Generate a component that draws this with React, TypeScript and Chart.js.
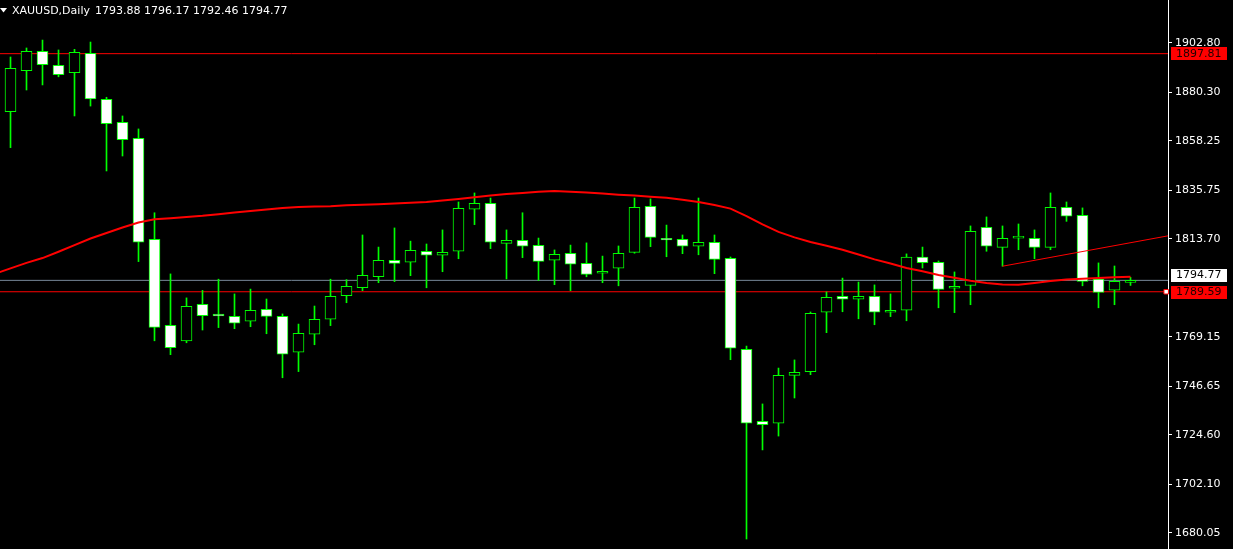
import React, { useEffect, useRef } from 'react';
import { Chart, registerables } from 'chart.js';
Chart.register(...registerables);

const symbolTitle = 'XAUUSD,Daily';
const headerQuote = '1793.88 1796.17 1792.46 1794.77';

const opens = [1871.4, 1890.1, 1898.9, 1892.5, 1889.2, 1898.0, 1877.1, 1866.6, 1859.3, 1813.4, 1774.3, 1767.3, 1783.9, 1779.4, 1778.4, 1776.2, 1781.6, 1778.4, 1762.1, 1770.3, 1777.1, 1787.8, 1791.4, 1796.4, 1803.9, 1803.0, 1808.0, 1806.2, 1808.0, 1827.1, 1829.8, 1811.6, 1813.0, 1810.7, 1803.9, 1807.1, 1802.5, 1798.0, 1800.3, 1807.5, 1828.4, 1813.9, 1813.4, 1810.3, 1812.1, 1804.8, 1763.4, 1730.7, 1729.8, 1751.6, 1753.3, 1780.3, 1787.5, 1786.2, 1787.5, 1780.3, 1781.2, 1805.3, 1803.0, 1791.2, 1792.5, 1818.9, 1809.8, 1814.0, 1813.9, 1809.8, 1828.0, 1824.3, 1795.3, 1790.3, 1793.88];
const highs = [1896.3, 1900.4, 1904.0, 1899.5, 1899.8, 1903.1, 1878.0, 1869.5, 1863.6, 1825.5, 1797.7, 1786.8, 1790.2, 1795.3, 1788.6, 1790.8, 1786.3, 1779.5, 1774.9, 1783.1, 1795.3, 1795.1, 1815.4, 1809.9, 1818.6, 1812.6, 1811.3, 1817.7, 1830.4, 1834.5, 1832.2, 1817.7, 1825.5, 1814.0, 1808.6, 1810.8, 1811.8, 1805.8, 1810.4, 1832.2, 1831.8, 1819.9, 1815.4, 1832.2, 1815.4, 1805.4, 1764.9, 1738.6, 1754.9, 1758.6, 1780.4, 1789.5, 1795.8, 1794.0, 1792.7, 1788.6, 1806.8, 1809.9, 1803.6, 1798.6, 1819.5, 1823.6, 1819.5, 1820.4, 1817.7, 1834.5, 1830.4, 1827.7, 1802.7, 1801.3, 1796.17];
const lows = [1855.1, 1881.3, 1883.6, 1887.3, 1869.5, 1874.0, 1844.5, 1851.3, 1803.3, 1767.3, 1761.0, 1766.4, 1772.2, 1773.3, 1772.8, 1773.7, 1770.5, 1750.5, 1753.3, 1765.5, 1774.2, 1784.6, 1790.1, 1793.7, 1794.2, 1796.9, 1791.4, 1798.7, 1804.6, 1820.1, 1809.2, 1795.4, 1805.1, 1794.7, 1792.8, 1790.1, 1796.4, 1793.7, 1792.3, 1807.1, 1810.1, 1805.5, 1806.9, 1806.4, 1797.8, 1758.7, 1677.2, 1717.7, 1724.0, 1741.3, 1751.9, 1771.0, 1780.5, 1777.3, 1774.6, 1778.3, 1776.4, 1800.4, 1782.3, 1780.1, 1783.7, 1808.0, 1801.2, 1808.7, 1804.6, 1808.7, 1821.6, 1792.3, 1782.3, 1783.7, 1792.46];
const closes = [1891.2, 1898.9, 1892.8, 1888.3, 1898.4, 1877.3, 1866.0, 1858.7, 1812.1, 1773.4, 1764.2, 1783.0, 1778.7, 1778.6, 1775.3, 1781.2, 1778.4, 1761.2, 1770.7, 1777.1, 1787.5, 1792.1, 1797.1, 1803.9, 1802.5, 1808.4, 1806.2, 1807.5, 1827.5, 1829.8, 1812.1, 1813.0, 1810.3, 1803.4, 1806.6, 1802.1, 1797.5, 1798.9, 1807.1, 1828.0, 1814.3, 1813.1, 1810.3, 1812.1, 1804.3, 1763.9, 1729.8, 1729.2, 1751.6, 1753.0, 1779.8, 1787.1, 1786.2, 1787.5, 1780.3, 1781.2, 1805.3, 1802.8, 1790.7, 1792.1, 1817.1, 1810.3, 1813.9, 1814.8, 1809.8, 1828.0, 1823.9, 1794.3, 1789.3, 1794.3, 1794.77];

// moving average, first value belongs to bar index -1 (just off the left edge)
const maStart = -1;
const maValues = [1797.7, 1800.2, 1802.7, 1804.9, 1807.8, 1810.8, 1813.8, 1816.3, 1818.8, 1821.1, 1822.5, 1823.0, 1823.6, 1824.1, 1824.8, 1825.6, 1826.3, 1827.0, 1827.7, 1828.1, 1828.3, 1828.5, 1828.9, 1829.1, 1829.4, 1829.7, 1830.0, 1830.4, 1831.1, 1831.8, 1832.5, 1833.3, 1834.0, 1834.5, 1835.0, 1835.4, 1835.1, 1834.7, 1834.2, 1833.7, 1833.3, 1832.8, 1832.3, 1831.4, 1830.4, 1829.0, 1827.4, 1824.0, 1820.2, 1816.8, 1814.3, 1812.2, 1810.5, 1808.7, 1806.5, 1804.3, 1802.4, 1800.4, 1798.9, 1797.2, 1796.0, 1794.6, 1793.6, 1792.9, 1792.8, 1793.6, 1794.5, 1795.2, 1795.5, 1795.9, 1796.2, 1796.4];

const redLevelTop = 1897.81;
const bidPrice = 1794.77;
const redLevelLow = 1789.59;
const trendStart = { x: 62, y: 1801.2 };
const trendEnd = { x: 72.34, y: 1815.0 };
const yTickValues = [1680.05, 1702.10, 1724.60, 1746.65, 1769.15, 1813.70, 1835.75, 1858.25, 1880.30, 1902.80];

const FONT = '11px "DejaVu Sans"';

const zeroPad = (s: any) => {
  s.paddingTop = 0;
  s.paddingBottom = 0;
  s.paddingLeft = 0;
  s.paddingRight = 0;
};

export default function App() {
  const ref = useRef<HTMLCanvasElement | null>(null);
  useEffect(() => {
    if (!ref.current) return;
    const wicks = opens.map((_, i) => ({ x: i, y: [lows[i], highs[i]] }));
    const bodies = opens.map((o, i) => ({ x: i, y: [o, closes[i]] }));
    const ma = maValues.map((v, k) => ({ x: maStart + k, y: v }));
    const xMin = -0.65625;
    const xMax = 72.34375;

    const overlay = {
      id: 'mtOverlay',
      beforeDraw(chart: any) {
        const c = chart.ctx;
        c.save();
        c.fillStyle = '#000';
        c.fillRect(0, 0, chart.width, chart.height);
        c.restore();
      },
      afterDraw(chart: any) {
        const c = chart.ctx;
        const ys = chart.scales.y;
        c.save();
        // header
        c.fillStyle = '#fff';
        c.beginPath();
        c.moveTo(0, 8);
        c.lineTo(7, 8);
        c.lineTo(3.5, 12.5);
        c.closePath();
        c.fill();
        c.font = FONT;
        c.textBaseline = 'middle';
        c.textAlign = 'left';
        c.fillText(symbolTitle, 12, 11.5);
        c.fillText(headerQuote, 95, 11.5);
        // price boxes
        const box = (v: number, bg: string, fg: string, shift: number) => {
          const py = ys.getPixelForValue(v) + shift;
          c.fillStyle = bg;
          c.fillRect(1171, Math.round(py - 6.5), 56, 13);
          c.fillStyle = fg;
          c.fillText(v.toFixed(2), 1176, Math.round(py) + 0.5);
        };
        box(redLevelTop, '#ff0000', '#200000', 0);
        box(bidPrice, '#ffffff', '#000000', -5);
        box(redLevelLow, '#ff0000', '#200000', 0.5);
        c.restore();
      },
    };

    const chart = new Chart(ref.current, {
      type: 'bar',
      data: {
        datasets: [
          {
            type: 'line',
            data: [{ x: 72.23, y: redLevelLow }],
            showLine: false,
            pointStyle: 'rect',
            pointRadius: 3.2,
            pointBackgroundColor: '#ffffff',
            pointBorderColor: '#ff0000',
            pointBorderWidth: 1,
            clip: false,
            order: 0,
          } as any,
          {
            type: 'line',
            data: ma,
            borderColor: '#ff0000',
            borderWidth: 2,
            pointRadius: 0,
            tension: 0,
            order: 1,
          } as any,
          {
            type: 'line',
            data: [trendStart, trendEnd],
            borderColor: '#ff0000',
            borderWidth: 1,
            pointRadius: 0,
            order: 1,
          } as any,
          {
            type: 'line',
            data: [{ x: -1, y: redLevelTop }, { x: 74, y: redLevelTop }],
            borderColor: '#ff0000',
            borderWidth: 1,
            pointRadius: 0,
            order: 5,
          } as any,
          {
            type: 'line',
            data: [{ x: -1, y: bidPrice }, { x: 74, y: bidPrice }],
            borderColor: '#778899',
            borderWidth: 1,
            pointRadius: 0,
            order: 5,
          } as any,
          {
            type: 'line',
            data: [{ x: -1, y: redLevelLow }, { x: 74, y: redLevelLow }],
            borderColor: '#ff0000',
            borderWidth: 1,
            pointRadius: 0,
            order: 5,
          } as any,
          {
            type: 'bar',
            data: bodies,
            barThickness: 11,
            grouped: false,
            backgroundColor: (ctx: any) => {
              const i = ctx.dataIndex;
              return closes[i] >= opens[i] ? '#000000' : '#ffffff';
            },
            borderColor: '#00ff00',
            borderWidth: 1,
            borderSkipped: false,
            order: 2,
          } as any,
          {
            type: 'bar',
            data: wicks,
            barThickness: 1,
            grouped: false,
            backgroundColor: '#00ff00',
            borderWidth: 0,
            order: 3,
          } as any,
        ],
      },
      options: {
        responsive: false,
        animation: false,
        events: [],
        layout: { padding: 0, autoPadding: false },
        plugins: { legend: { display: false }, tooltip: { enabled: false }, title: { display: false } },
        scales: {
          x: {
            type: 'linear',
            min: xMin,
            max: xMax,
            offset: false,
            display: false,
            afterFit: zeroPad,
          },
          y: {
            position: 'right',
            min: 1672.66,
            max: 1922.21,
            afterFit: (s: any) => {
              s.width = 65;
              zeroPad(s);
            },
            afterBuildTicks: (s: any) => {
              s.ticks = yTickValues.map((v) => ({ value: v }));
            },
            ticks: {
              autoSkip: false,
              color: '#ffffff',
              font: { family: 'DejaVu Sans', size: 11 },
              padding: 3,
              callback: (v: any) => Number(v).toFixed(2),
            },
            grid: { drawOnChartArea: false, drawTicks: true, tickLength: 4, color: '#ffffff' },
            border: { display: true, color: '#ffffff', width: 1 },
          },
        },
      } as any,
      plugins: [overlay],
    });
    return () => chart.destroy();
  }, []);

  return (
    <div style={{ position: 'absolute', left: 0, top: 0, width: 1233, height: 549, background: '#000' }}>
      <canvas ref={ref} width={1233} height={549} style={{ display: 'block' }} />
    </div>
  );
}
